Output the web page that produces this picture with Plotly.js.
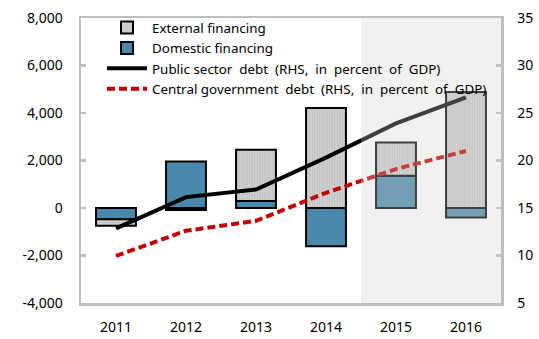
<!DOCTYPE html>
<html>
<head>
<meta charset="utf-8">
<script src="https://cdn.plot.ly/plotly-3.0.1.min.js"></script>
<style>html,body{margin:0;padding:0;background:#fff;}#chart{width:539px;height:339px;}</style>
</head>
<body>
<div id="chart"></div>
<script>
const years = ['2011','2012','2013','2014','2015','2016'];
const externalFinancing = [-280, -80, 2160, 4210, 1400, 4880];
const domesticFinancing = [-470, 1960, 290, -1610, 1360, -400];
const publicSectorDebt = [12.85, 16.15, 16.95, 20.3, 23.9, 26.65];
const centralGovDebt = [9.95, 12.6, 13.65, 16.6, 19.1, 21.0];
const leftTicks = [-4000, -2000, 0, 2000, 4000, 6000, 8000];
const rightTicks = [5, 10, 15, 20, 25, 30, 35];

const FONT = 'Noto Sans, Open Sans, sans-serif';
const GRID = '#bfbfbf';

const traces = [
  {
    type: 'bar', name: 'Domestic financing', x: years, y: domesticFinancing,
    legendrank: 2, width: 0.57,
    marker: {color: '#4a88ab', line: {color: '#000', width: 2}}
  },
  {
    type: 'bar', name: 'External financing', x: years, y: externalFinancing,
    legendrank: 1, width: 0.57,
    marker: {color: '#cfcfcf', line: {color: '#000', width: 2},
      pattern: {shape: '|', fgcolor: '#bdbdbd', bgcolor: '#d0d0d0', size: 2.5, solidity: 0.3}}
  },
  {
    type: 'scatter', mode: 'lines', name: 'Public sector  debt  (RHS,  in  percent  of  GDP)',
    x: years, y: publicSectorDebt, yaxis: 'y2', legendrank: 3,
    line: {color: '#000', width: 4}
  },
  {
    type: 'scatter', mode: 'lines', name: 'Central government  debt  (RHS,  in  percent  of  GDP)',
    x: years, y: centralGovDebt, yaxis: 'y2', legendrank: 4,
    line: {color: '#c00000', width: 4, dash: '8px,4px'}
  }
];

const layout = {
  width: 539, height: 339,
  margin: {l: 81, r: 38, t: 15, b: 36},
  paper_bgcolor: '#fff', plot_bgcolor: '#fff',
  font: {family: FONT, size: 14, color: '#000'},
  barmode: 'relative',
  showlegend: true,
  legend: {x: 0.05, y: 1.02, xanchor: 'left', yanchor: 'top', bgcolor: 'rgba(0,0,0,0)',
    font: {family: FONT, size: 13.4, color: '#000'}, tracegroupgap: 0, itemwidth: 40},
  xaxis: {
    type: 'category', categoryorder: 'array', categoryarray: years, range: [-0.5, 5.5],
    showline: true, linecolor: GRID, linewidth: 2.5, mirror: true,
    ticks: '', showgrid: false, zeroline: false, ticklabelstandoff: 10,
    tickfont: {family: FONT, size: 14}
  },
  xaxis2: {
    type: 'category', categoryorder: 'array', categoryarray: years, range: [-0.5, 5.5],
    overlaying: 'x', anchor: 'free', position: 0.3333, side: 'bottom',
    showline: true, linecolor: GRID, linewidth: 2.5,
    ticks: 'inside', tickson: 'boundaries', ticklen: 6, tickcolor: GRID, tickwidth: 2.5,
    showticklabels: false, showgrid: false, zeroline: false
  },
  yaxis: {
    range: [-4000, 8000], tickvals: leftTicks, ticktext: leftTicks.map(v => v.toLocaleString('en-US')),
    showline: true, linecolor: GRID, linewidth: 2.5,
    ticks: 'inside', ticklen: 5, tickcolor: GRID, tickwidth: 2.5, ticklabelstandoff: 13,
    showgrid: false, zeroline: false, tickfont: {family: FONT, size: 14}
  },
  yaxis2: {
    overlaying: 'y', side: 'right', range: [5, 35], tickvals: rightTicks,
    showline: true, linecolor: GRID, linewidth: 2.5,
    ticks: 'inside', ticklen: 5, tickcolor: GRID, tickwidth: 2.5, ticklabelstandoff: 11,
    showgrid: false, zeroline: false, tickfont: {family: FONT, size: 14}
  },
  shapes: [
    {type: 'rect', xref: 'x', yref: 'paper', x0: 3.5, x1: 5.5, y0: 0, y1: 1,
     fillcolor: 'rgba(210,210,210,0.3)', line: {width: 0}, layer: 'above'}
  ]
};

Plotly.newPlot('chart', traces, layout, {displayModeBar: false, staticPlot: true});
</script>
</body>
</html>
